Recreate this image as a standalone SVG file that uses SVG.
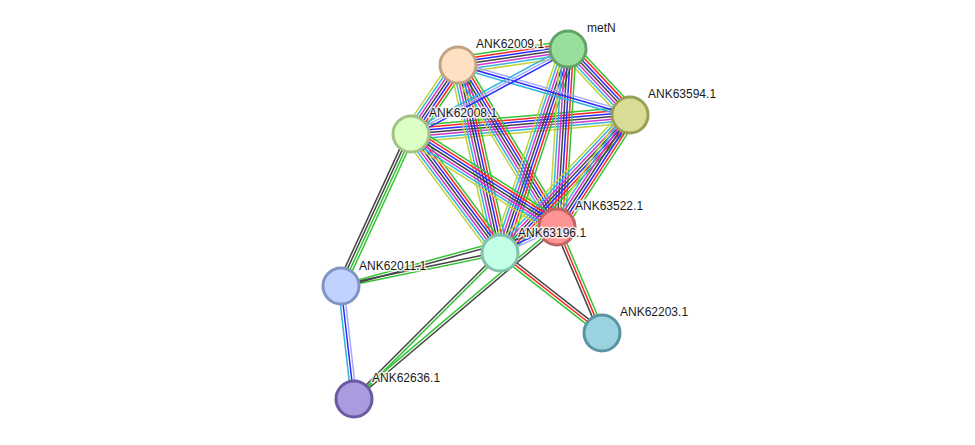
<svg xmlns="http://www.w3.org/2000/svg" width="975" height="445" viewBox="0 0 975 445">
<style>
line{stroke-width:1.5;fill:none}
.g{stroke:#33c433}.r{stroke:#ff2424}.b{stroke:#2a2aff}.k{stroke:#444444}.m{stroke:#d035d0}.c{stroke:#33b5dd}.y{stroke:#c2d23a}.p{stroke:#a8a8ff}
circle{stroke-width:3}
text{font-family:"Liberation Sans",Arial,sans-serif;font-size:12px;fill:#1a1a1a;stroke:#ffffff;stroke-width:3px;stroke-opacity:0.8;paint-order:stroke;stroke-linejoin:round}
</style>
<rect width="975" height="445" fill="#ffffff"/>
<g id="edges">
<g transform="translate(458,65) rotate(-8.28)"><line x2="111" y1="-8.1" y2="-8.1" class="g"/><line x2="111" y1="-5.4" y2="-5.4" class="r"/><line x2="111" y1="-2.7" y2="-2.7" class="b"/><line x2="111" y1="0" y2="0" class="k"/><line x2="111" y1="2.7" y2="2.7" class="m"/><line x2="111" y1="5.4" y2="5.4" class="c"/><line x2="111" y1="8.1" y2="8.1" class="y"/></g>
<g transform="translate(458,65) rotate(124.26)"><line x2="84" y1="-8.1" y2="-8.1" class="g"/><line x2="84" y1="-5.4" y2="-5.4" class="r"/><line x2="84" y1="-2.7" y2="-2.7" class="b"/><line x2="84" y1="0" y2="0" class="k"/><line x2="84" y1="2.7" y2="2.7" class="m"/><line x2="84" y1="5.4" y2="5.4" class="c"/><line x2="84" y1="8.1" y2="8.1" class="y"/></g>
<g transform="translate(411,134) rotate(-4.96)"><line x2="220" y1="-8.1" y2="-8.1" class="g"/><line x2="220" y1="-5.4" y2="-5.4" class="r"/><line x2="220" y1="-2.7" y2="-2.7" class="b"/><line x2="220" y1="0" y2="0" class="k"/><line x2="220" y1="2.7" y2="2.7" class="m"/><line x2="220" y1="5.4" y2="5.4" class="c"/><line x2="220" y1="8.1" y2="8.1" class="y"/></g>
<g transform="translate(568,49) rotate(46.79)"><line x2="91" y1="-8.1" y2="-8.1" class="g"/><line x2="91" y1="-5.4" y2="-5.4" class="r"/><line x2="91" y1="-2.7" y2="-2.7" class="b"/><line x2="91" y1="0" y2="0" class="k"/><line x2="91" y1="2.7" y2="2.7" class="m"/><line x2="91" y1="5.4" y2="5.4" class="c"/><line x2="91" y1="8.1" y2="8.1" class="y"/></g>
<g transform="translate(458,65) rotate(77.41)"><line x2="193" y1="-8.1" y2="-8.1" class="g"/><line x2="193" y1="-5.4" y2="-5.4" class="r"/><line x2="193" y1="-2.7" y2="-2.7" class="b"/><line x2="193" y1="0" y2="0" class="k"/><line x2="193" y1="2.7" y2="2.7" class="m"/><line x2="193" y1="5.4" y2="5.4" class="c"/><line x2="193" y1="8.1" y2="8.1" class="y"/></g>
<g transform="translate(458,65) rotate(58.57)"><line x2="190" y1="-8.1" y2="-8.1" class="g"/><line x2="190" y1="-5.4" y2="-5.4" class="r"/><line x2="190" y1="-2.7" y2="-2.7" class="b"/><line x2="190" y1="0" y2="0" class="k"/><line x2="190" y1="2.7" y2="2.7" class="m"/><line x2="190" y1="5.4" y2="5.4" class="c"/><line x2="190" y1="8.1" y2="8.1" class="y"/></g>
<g transform="translate(568,49) rotate(108.43)"><line x2="215" y1="-8.1" y2="-8.1" class="g"/><line x2="215" y1="-5.4" y2="-5.4" class="r"/><line x2="215" y1="-2.7" y2="-2.7" class="b"/><line x2="215" y1="0" y2="0" class="k"/><line x2="215" y1="2.7" y2="2.7" class="m"/><line x2="215" y1="5.4" y2="5.4" class="c"/><line x2="215" y1="8.1" y2="8.1" class="y"/></g>
<g transform="translate(568,49) rotate(93.54)"><line x2="178" y1="-8.1" y2="-8.1" class="g"/><line x2="178" y1="-5.4" y2="-5.4" class="r"/><line x2="178" y1="-2.7" y2="-2.7" class="b"/><line x2="178" y1="0" y2="0" class="k"/><line x2="178" y1="2.7" y2="2.7" class="m"/><line x2="178" y1="5.4" y2="5.4" class="c"/><line x2="178" y1="8.1" y2="8.1" class="y"/></g>
<g transform="translate(630,115) rotate(133.29)"><line x2="190" y1="-8.1" y2="-8.1" class="g"/><line x2="190" y1="-5.4" y2="-5.4" class="r"/><line x2="190" y1="-2.7" y2="-2.7" class="b"/><line x2="190" y1="0" y2="0" class="k"/><line x2="190" y1="2.7" y2="2.7" class="m"/><line x2="190" y1="5.4" y2="5.4" class="c"/><line x2="190" y1="8.1" y2="8.1" class="y"/></g>
<g transform="translate(630,115) rotate(123.10)"><line x2="134" y1="-8.1" y2="-8.1" class="g"/><line x2="134" y1="-5.4" y2="-5.4" class="r"/><line x2="134" y1="-2.7" y2="-2.7" class="b"/><line x2="134" y1="0" y2="0" class="k"/><line x2="134" y1="2.7" y2="2.7" class="m"/><line x2="134" y1="5.4" y2="5.4" class="c"/><line x2="134" y1="8.1" y2="8.1" class="y"/></g>
<g transform="translate(411,134) rotate(53.21)"><line x2="149" y1="-8.1" y2="-8.1" class="g"/><line x2="149" y1="-5.4" y2="-5.4" class="r"/><line x2="149" y1="-2.7" y2="-2.7" class="b"/><line x2="149" y1="0" y2="0" class="k"/><line x2="149" y1="2.7" y2="2.7" class="m"/><line x2="149" y1="5.4" y2="5.4" class="c"/><line x2="149" y1="8.1" y2="8.1" class="y"/></g>
<g transform="translate(411,134) rotate(32.50)"><line x2="173" y1="-8.1" y2="-8.1" class="g"/><line x2="173" y1="-5.4" y2="-5.4" class="r"/><line x2="173" y1="-2.7" y2="-2.7" class="b"/><line x2="173" y1="0" y2="0" class="k"/><line x2="173" y1="2.7" y2="2.7" class="m"/><line x2="173" y1="5.4" y2="5.4" class="c"/><line x2="173" y1="8.1" y2="8.1" class="y"/></g>
<g transform="translate(458,65) rotate(16.21)"><line x2="179" y1="-2.7" y2="-2.7" class="p"/><line x2="179" y1="0" y2="0" class="b"/><line x2="179" y1="2.7" y2="2.7" class="c"/></g>
<g transform="translate(568,49) rotate(151.57)"><line x2="179" y1="-2.7" y2="-2.7" class="b"/><line x2="179" y1="0" y2="0" class="p"/><line x2="179" y1="2.7" y2="2.7" class="c"/></g>
<g transform="translate(500,253) rotate(-24.52)"><line x2="63" y1="-1.35" y2="-1.35" class="b"/><line x2="63" y1="1.35" y2="1.35" class="p"/></g>
<g transform="translate(341,286) rotate(-65.27)"><line x2="167" y1="-4" y2="-4" class="k"/><line x2="167" y1="-1.35" y2="-1.35" class="k"/><line x2="167" y1="1.35" y2="1.35" class="g"/><line x2="167" y1="4" y2="4" class="g"/></g>
<g transform="translate(341,286) rotate(-11.73)"><line x2="162" y1="-1.35" y2="-1.35" class="k"/><line x2="162" y1="1.35" y2="1.35" class="g"/></g>
<g transform="translate(341,286) rotate(-15.28)"><line x2="224" y1="-1.35" y2="-1.35" class="g"/><line x2="224" y1="1.35" y2="1.35" class="k"/></g>
<g transform="translate(341,286) rotate(83.44)"><line x2="114" y1="-2.7" y2="-2.7" class="p"/><line x2="114" y1="0" y2="0" class="b"/><line x2="114" y1="2.7" y2="2.7" class="c"/></g>
<g transform="translate(500,253) rotate(135)"><line x2="206" y1="-1.35" y2="-1.35" class="g"/><line x2="206" y1="1.35" y2="1.35" class="k"/></g>
<g transform="translate(557,227) rotate(139.73)"><line x2="266" y1="-1.35" y2="-1.35" class="k"/><line x2="266" y1="1.35" y2="1.35" class="g"/></g>
<g transform="translate(500,253) rotate(38.11)"><line x2="130" y1="-2.7" y2="-2.7" class="k"/><line x2="130" y1="0" y2="0" class="r"/><line x2="130" y1="2.7" y2="2.7" class="g"/></g>
<g transform="translate(557,227) rotate(67.0)"><line x2="115" y1="-2.7" y2="-2.7" class="g"/><line x2="115" y1="0" y2="0" class="r"/><line x2="115" y1="2.7" y2="2.7" class="k"/></g>
</g>
<g id="ANK62009.1"><circle cx="458" cy="65" r="18" fill="#ffe0c2" stroke="#c0a484"/><text x="476" y="48">ANK62009.1</text></g>
<g id="metN"><circle cx="568" cy="49" r="18" fill="#9ade9c" stroke="#62a466"/><text x="587" y="32">metN</text></g>
<g id="ANK63594.1"><circle cx="630" cy="115" r="18" fill="#d8dc94" stroke="#98a056"/><text x="648" y="98">ANK63594.1</text></g>
<g id="ANK62008.1"><circle cx="411" cy="134" r="18" fill="#dcffc4" stroke="#a2c286"/><text x="429" y="117">ANK62008.1</text></g>
<g id="ANK63522.1"><circle cx="557" cy="227" r="18" fill="#ff9494" stroke="#c06464"/><text x="575" y="210">ANK63522.1</text></g>
<g id="ANK63196.1"><circle cx="500" cy="253" r="18" fill="#c2ffe6" stroke="#82c2aa"/><text x="518" y="237">ANK63196.1</text></g>
<g id="ANK62011.1"><circle cx="341" cy="286" r="18" fill="#c2d2ff" stroke="#8294c2"/><text x="359" y="270">ANK62011.1</text></g>
<g id="ANK62203.1"><circle cx="602" cy="333" r="18" fill="#9ad2e0" stroke="#5a94a2"/><text x="620" y="316">ANK62203.1</text></g>
<g id="ANK62636.1"><circle cx="354" cy="399" r="18" fill="#aa9ade" stroke="#6a5aa2"/><text x="372" y="382">ANK62636.1</text></g>
</svg>
